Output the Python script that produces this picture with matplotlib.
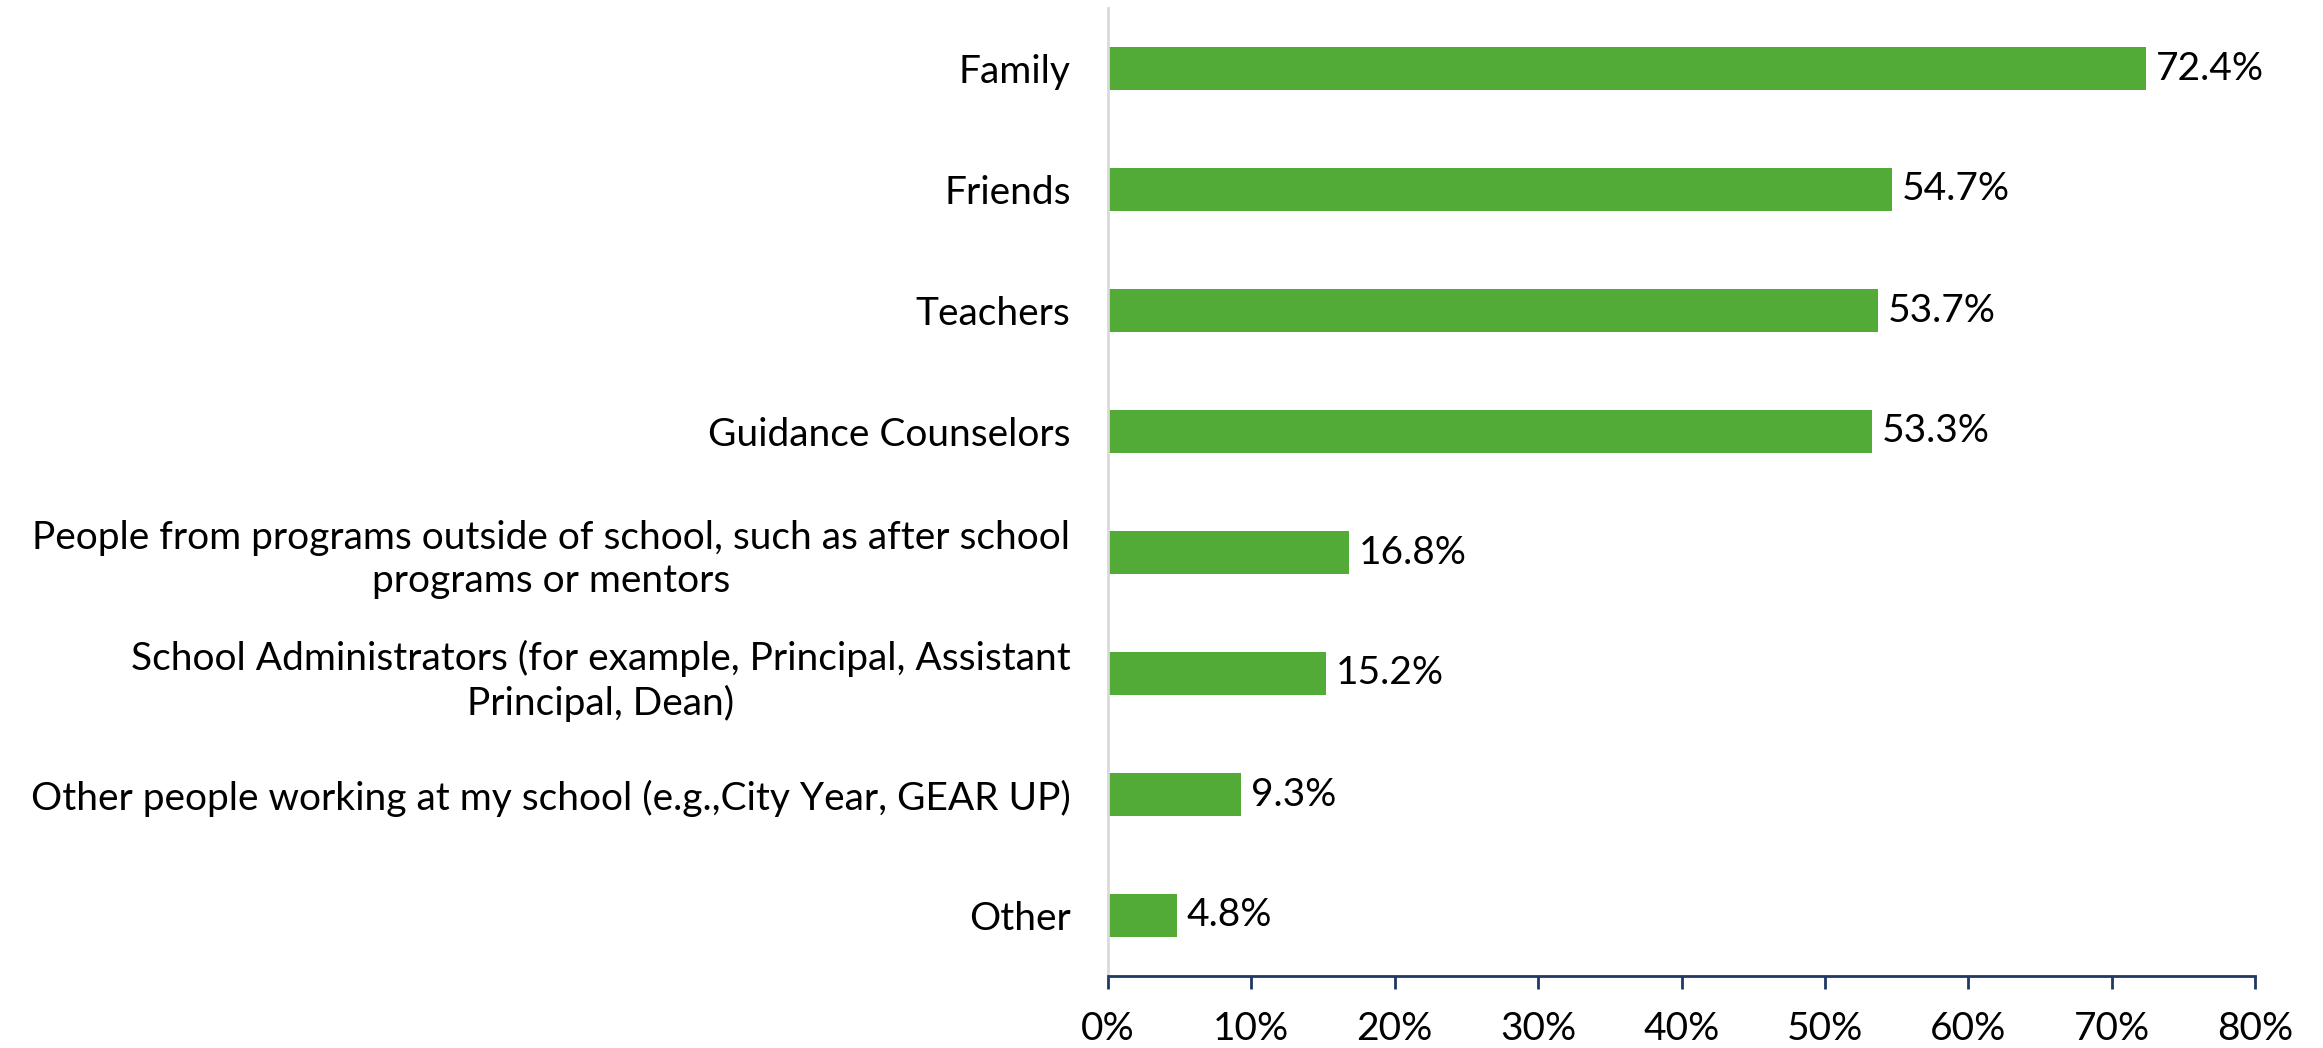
import matplotlib
matplotlib.use("Agg")
import matplotlib.pyplot as plt
from matplotlib.ticker import FuncFormatter

categories = [
    "Family",
    "Friends",
    "Teachers",
    "Guidance Counselors",
    "People from programs outside of school, such as after school\nprograms or mentors",
    "School Administrators (for example, Principal, Assistant\nPrincipal, Dean)",
    "Other people working at my school (e.g.,City Year, GEAR UP)",
    "Other",
]
values = [72.4, 54.7, 53.7, 53.3, 16.8, 15.2, 9.3, 4.8]
x_ticks = [0, 10, 20, 30, 40, 50, 60, 70, 80]

plt.rcParams['font.family'] = ['Lato', 'DejaVu Sans']
FS = 28

fig = plt.figure(figsize=(23.23, 10.48), dpi=100)
ax = fig.add_axes([1108/2323, 1 - 976/1048, (2255-1108)/2323, (976-8)/1048])

y = list(range(len(categories)))
ax.barh(y, values, height=0.36, color="#52AA37")
for yi, v in zip(y, values):
    ax.annotate(f"{v:.1f}%", xy=(v, yi), xytext=(7, 0), textcoords="offset points",
                va="center", ha="left", fontsize=FS, color="black")

ax.set_xlim(0, 80)
ax.set_ylim(len(categories) - 0.5, -0.5)
ax.set_yticks(y)
ax.set_yticklabels(categories, fontsize=FS, multialignment="center", linespacing=1.25)
ax.set_xticks(x_ticks)
ax.xaxis.set_major_formatter(FuncFormatter(lambda v, p: f"{int(v)}%"))

for s in ["top", "right"]:
    ax.spines[s].set_visible(False)
ax.spines["left"].set_color("#D9D9D9")
ax.spines["left"].set_linewidth(2)
ax.spines["bottom"].set_color("#1F3864")
ax.spines["bottom"].set_linewidth(2)
ax.tick_params(axis="y", length=0, pad=27)
ax.tick_params(axis="x", length=9.5, width=2, color="#1F3864", direction="out",
               labelsize=FS, pad=16)

fig.savefig("out.png", dpi=100, facecolor="white")
